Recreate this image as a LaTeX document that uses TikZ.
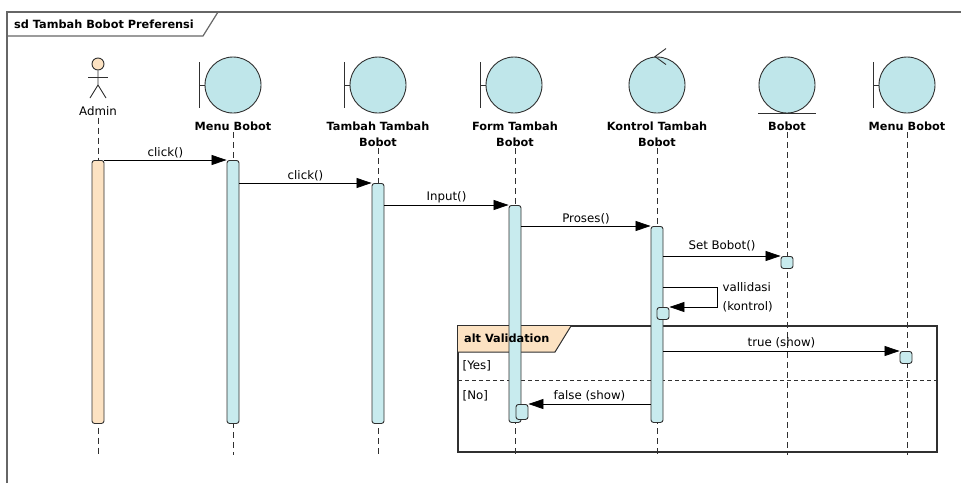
\documentclass[tikz,border=0pt]{standalone}
\usepackage{fontspec}
\setmainfont{DejaVu Sans}
\usetikzlibrary{arrows.meta}
\definecolor{actc}{HTML}{C8EBEE}
\definecolor{circc}{HTML}{BFE6EA}
\definecolor{orc}{HTML}{FCE2C2}
\definecolor{framec}{HTML}{666666}
\definecolor{linec}{HTML}{303030}
\begin{document}
\begin{tikzpicture}[x=1pt,y=-1pt,
 lbl/.style={font=\fontsize{11.8}{14}\selectfont, inner sep=1.5pt},
 blbl/.style={font=\bfseries\fontsize{11.3}{16}\selectfont, inner sep=1pt, align=center},
 lifeline/.style={draw=linec, line width=0.9pt, dash pattern=on 6pt off 4pt},
 act/.style={draw=linec, fill=actc, line width=0.9pt, rounded corners=2.5pt, inner sep=0pt, minimum width=12pt, anchor=north},
 obj/.style={draw=linec, line width=0.9pt},
 circ/.style={obj, circle, fill=circc, minimum size=56pt, inner sep=0pt},
 msg/.style={draw=black, line width=0.8pt, -{Triangle[length=15pt,width=10pt]}},
 ]
\useasboundingbox (0,0) rectangle (961,483);
\fill[white] (0,0) rectangle (961,483);

% outer frame
\draw[framec, line width=2pt] (7,483) -- (7,12) -- (961,12);
\draw[framec, line width=1.2pt] (7,36) -- (203,36) -- (218,12);
\node[blbl, anchor=west] (title) at (13,24) {sd Tambah Bobot Preferensi};

% actor
\node[obj, circle, fill=orc, minimum size=12pt, inner sep=0pt] (head) at (98,64) {};
\draw[obj] (head.south) -- (98,85) coordinate (hip) -- (90,98);
\draw[obj] (hip) -- (106,98);
\draw[obj] (88,77) -- (108,77);
\node[lbl, anchor=north] (lA) at (98,105) {Admin};

% boundary Menu Bobot
\node[circ] (cMB) at (233,85) {};
\draw[obj] (cMB.west) -- ++(-5,0) ++(0,-23) -- ++(0,46);
\node[blbl, anchor=north] (lMB) at (233,121) {Menu Bobot};
% boundary Tambah Tambah Bobot
\node[circ] (cTT) at (378,85) {};
\draw[obj] (cTT.west) -- ++(-5,0) ++(0,-23) -- ++(0,46);
\node[blbl, anchor=north] (lTT) at (378,121) {Tambah Tambah\\Bobot};
% boundary Form Tambah Bobot
\node[circ] (cFT) at (514,85) {};
\draw[obj] (cFT.west) -- ++(-5,0) ++(0,-23) -- ++(0,46);
\node[blbl, anchor=north] (lFT) at (515,121) {Form Tambah\\Bobot};
% control
\node[circ] (cKT) at (657,85) {};
\draw[obj] ([xshift=9pt,yshift=8pt]cKT.north) -- ([xshift=-2pt]cKT.north) -- ([xshift=9pt,yshift=-8pt]cKT.north);
\node[blbl, anchor=north] (lKT) at (657,121) {Kontrol Tambah\\Bobot};
% entity
\node[circ] (cBO) at (787,85) {};
\draw[obj] ([xshift=-29pt]cBO.south) -- ([xshift=29pt]cBO.south);
\node[blbl, anchor=north] (lBO) at (787,121) {Bobot};
% boundary Menu Bobot 2
\node[circ] (cMB2) at (907,85) {};
\draw[obj] (cMB2.west) -- ++(-5,0) ++(0,-23) -- ++(0,46);
\node[blbl, anchor=north] (lMB2) at (907,121) {Menu Bobot};

% lifeline ends
\coordinate (eA) at (98,455);
\coordinate (eMB) at (233,455);
\coordinate (eTT) at (378,455);
\coordinate (eFT) at (515,455);
\coordinate (eKT) at (657,455);
\coordinate (eBO) at (787,455);
\coordinate (eMB2) at (907,455);

% alt fragment (box)
\draw[linec, line width=1.2pt] (458,326) rectangle (937,452);
\fill[orc] (458,326) -- (571,326) -- (555,352) -- (458,352) -- cycle;
\draw[linec, line width=1pt] (571,326) -- (555,352) -- (458,352);
\draw[linec, line width=0.9pt, dash pattern=on 4pt off 3pt] (458,380) -- (937,380);

% lifelines
\draw[lifeline] (lA.south) -- (eA);
\draw[lifeline] (lMB.south) -- (eMB);
\draw[lifeline] (lTT.south) -- (eTT);
\draw[lifeline] (lFT.south) -- (eFT);
\draw[lifeline] (lKT.south) -- (eKT);
\draw[lifeline] (lBO.south) -- (eBO);
\draw[lifeline] (lMB2.south) -- (eMB2);

% activations
\node[act, fill=orc, minimum height=263pt] (aA) at (98,160) {};
\node[act, minimum height=263pt] (aMB) at (233,160) {};
\node[act, minimum height=240pt] (aTT) at (378,183) {};
\node[act, minimum height=217pt] (aFT) at (515,205) {};
\node[act, minimum height=196pt] (aKT) at (657,226) {};
\node[act, minimum height=12pt] (sBO) at (787,256) {};
\node[act, minimum height=12pt] (sKT) at (663,307) {};
\node[act, minimum height=12pt] (sMB2) at (906,351) {};
\node[act, minimum height=15pt] (sFT) at (522,404) {};

% alt texts
\node[blbl, anchor=west] (altT) at (463,338) {alt Validation};
\node[lbl, anchor=west] (gYes) at (461,366) {[Yes]};
\node[lbl, anchor=west] (gNo) at (461,396) {[No]};

% messages
\draw[msg] (aA.north east) -- node[lbl, above] {click()} (aMB.north west);
\draw[msg] (aMB.east |- aTT.north) -- node[lbl, above] {click()} (aTT.north west);
\draw[msg] (aTT.east |- aFT.north) -- node[lbl, above] {Input()} (aFT.north west);
\draw[msg] (aFT.east |- aKT.north) -- node[lbl, above] {Proses()} (aKT.north west);
\draw[msg] (aKT.east |- sBO.north) -- node[lbl, above=3pt] {Set Bobot()} (sBO.north west);
\coordinate (selfA) at (717,287);
\draw[msg] (aKT.east |- selfA) -- (selfA) |- (sKT.north east);
\node[lbl, anchor=west, align=left, font=\fontsize{11.8}{19}\selectfont] (selfL) at (721,297) {vallidasi\\(kontrol)};
\draw[msg] (aKT.east |- sMB2.north) -- node[lbl, above=1pt] {true (show)} (sMB2.north west);
\draw[msg] (aKT.west |- sFT.north) -- node[lbl, above=1pt] {false (show)} (sFT.north east);
\end{tikzpicture}
\end{document}
